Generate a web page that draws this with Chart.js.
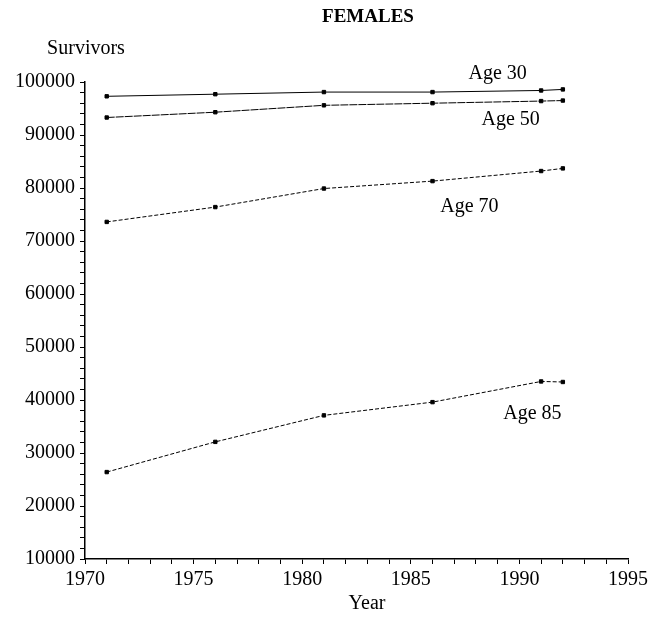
<!DOCTYPE html>
<html>
<head>
<meta charset="utf-8">
<script src="https://cdn.jsdelivr.net/npm/chart.js@4.4.1/dist/chart.umd.min.js"></script>
<style>
  html, body { margin: 0; padding: 0; background: #fff; }
  #wrap { width: 665px; height: 623px; position: relative; }
</style>
</head>
<body>
<div id="wrap"><canvas id="femalesChart"></canvas></div>
<script>
// Survivors par âge, femmes
const years = [1971, 1976, 1981, 1986, 1991, 1992];
const age30 = [97300, 97700, 98100, 98100, 98400, 98600];
const age50 = [93300, 94300, 95600, 96000, 96400, 96500];
const age70 = [73600, 76400, 79900, 81300, 83200, 83700];
const age85 = [26400, 32100, 37100, 39600, 43500, 43400];
const seriesNames = ['Age 30', 'Age 50', 'Age 70', 'Age 85'];
const xTicks = [1970, 1975, 1980, 1985, 1990, 1995];
const yTicks = [10000, 20000, 30000, 40000, 50000, 60000, 70000, 80000, 90000, 100000];

const serif = '"Liberation Serif", "DejaVu Serif", serif';

function toPoints(values) {
  return years.map((y, i) => ({ x: y, y: values[i] }));
}

// positions des étiquettes (en coordonnées de données)
const labelSpots = [
  { x: 1989.0, y: 101500 },
  { x: 1989.6, y: 92800 },
  { x: 1987.7, y: 76400 },
  { x: 1990.6, y: 37500 }
];

const textPlugin = {
  id: 'texts',
  afterDraw(chart) {
    const ctx = chart.ctx;
    const xs = chart.scales.x, ys = chart.scales.y;
    ctx.save();
    ctx.fillStyle = '#000';
    ctx.textAlign = 'center';
    ctx.textBaseline = 'middle';
    ctx.font = 'bold 19px ' + serif;
    ctx.fillText('FEMALES', 368, 17);
    ctx.font = '20px ' + serif;
    ctx.fillText('Survivors', 86, 49);
    ctx.fillText('Year', 367, 604);
    seriesNames.forEach((name, i) => {
      ctx.fillText(name, xs.getPixelForValue(labelSpots[i].x), ys.getPixelForValue(labelSpots[i].y));
    });
    ctx.restore();
  }
};

const common = {
  borderColor: '#000',
  backgroundColor: '#000',
  borderWidth: 1,
  pointStyle: 'rect',
  pointRadius: 2.4,
  showLine: true,
  fill: false,
  tension: 0
};

new Chart(document.getElementById('femalesChart'), {
  type: 'scatter',
  data: {
    datasets: [
      Object.assign({ label: seriesNames[0], data: toPoints(age30) }, common),
      Object.assign({ label: seriesNames[1], data: toPoints(age50), borderDash: [8, 1] }, common),
      Object.assign({ label: seriesNames[2], data: toPoints(age70), borderDash: [4, 2] }, common),
      Object.assign({ label: seriesNames[3], data: toPoints(age85), borderDash: [4, 2] }, common)
    ]
  },
  options: {
    responsive: true,
    maintainAspectRatio: false,
    animation: false,
    layout: { padding: { left: 0, top: 82, right: 37, bottom: 24 } },
    scales: {
      x: {
        type: 'linear',
        min: 1970,
        max: 1995,
        afterFit: s => { s.height = 40; },
        ticks: {
          stepSize: 1,
          autoSkip: false,
          maxRotation: 0,
          color: '#000',
          font: { family: serif, size: 20 },
          padding: 4,
          callback: v => (xTicks.includes(v) ? String(v) : '')
        },
        grid: { drawOnChartArea: false, tickLength: 5, color: '#000' },
        border: { display: true, color: '#000', width: 1.5 }
      },
      y: {
        min: 10000,
        max: 100000,
        afterFit: s => { s.width = 85; },
        ticks: {
          stepSize: 2000,
          autoSkip: false,
          color: '#000',
          font: { family: serif, size: 20 },
          padding: 5,
          callback: v => (yTicks.includes(v) ? String(v) : '')
        },
        grid: { drawOnChartArea: false, tickLength: 5, color: '#000' },
        border: { display: true, color: '#000', width: 1.5 }
      }
    },
    plugins: {
      legend: { display: false },
      tooltip: { enabled: false },
      title: { display: false }
    }
  },
  plugins: [textPlugin]
});
</script>
</body>
</html>
